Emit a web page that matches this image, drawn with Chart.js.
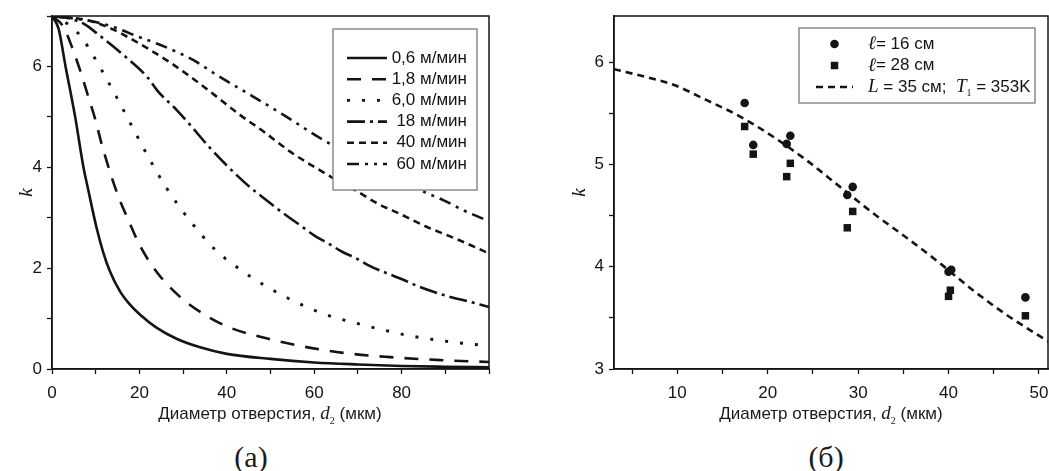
<!DOCTYPE html>
<html lang="ru">
<head>
<meta charset="UTF-8">
<title>k от диаметра отверстия</title>
<script src="https://cdn.jsdelivr.net/npm/chart.js"></script>
<style>
  body {
    margin: 0;
    width: 1049px;
    height: 471px;
    overflow: hidden;
    position: relative;
    background: #ffffff;
    font-family: 'Liberation Sans', Arial, sans-serif;
    color: #1a1a1a;
  }
  .panel { position: absolute; top: 0; height: 440px; }
  #panelA { left: 0; width: 520px; }
  #panelB { left: 530px; width: 519px; }
  .xtitle {
    position: absolute;
    top: 414px;
    font-size: 17px;
    white-space: nowrap;
    transform: translate(-50%, -50%);
  }
  .xtitle i { font-family: 'Liberation Serif', serif; font-size: 19px; }
  .xtitle sub { font-family: 'Liberation Serif', serif; font-size: 10px; }
  .caption {
    position: absolute;
    top: 457px;
    font-family: 'Liberation Serif', serif;
    font-size: 30px;
    transform: translate(-50%, -50%);
  }
</style>
</head>
<body>
<div class="panel" id="panelA"><canvas id="chartA" width="520" height="440"></canvas></div>
<div class="panel" id="panelB"><canvas id="chartB" width="519" height="440"></canvas></div>
<div class="xtitle" style="left:270px">Диаметр отверстия, <i>d</i><sub>2</sub> (мкм)</div>
<div class="xtitle" style="left:831px">Диаметр отверстия, <i>d</i><sub>2</sub> (мкм)</div>
<div class="caption" style="left:251px">(а)</div>
<div class="caption" style="left:826px">(б)</div>

<script>
// ---- panel (а): k vs d2 for different speeds ----
const speedLabels = ['0,6 м/мин', '1,8 м/мин', '6,0 м/мин', '18 м/мин', '40 м/мин', '60 м/мин'];

const d06 = [0, 1.5, 3.1, 5.3, 7.2, 8.3, 10.2, 11.7, 13.2, 15.5, 17.8, 20.1, 23.9, 28.5, 33.9, 40, 50, 60, 70, 80, 90, 100];
const k06 = [7, 6.75, 6.0, 5.0, 4.0, 3.55, 2.8, 2.32, 1.95, 1.55, 1.28, 1.08, 0.82, 0.6, 0.43, 0.3, 0.2, 0.13, 0.09, 0.06, 0.045, 0.035];

const d18 = [0, 2.5, 4.5, 6.4, 8.3, 9.8, 11.4, 13.3, 15.2, 17.8, 20.1, 24, 29.3, 35.4, 40.7, 49.5, 56, 66.7, 76.6, 88, 100];
const k18 = [7, 6.8, 6.4, 5.93, 5.4, 4.98, 4.45, 3.9, 3.42, 2.89, 2.45, 1.92, 1.43, 1.05, 0.82, 0.6, 0.47, 0.32, 0.24, 0.18, 0.14];

const d60 = [0, 4.1, 6.9, 11.2, 14.9, 18.5, 22.2, 26.2, 31.4, 37.3, 43.6, 49.8, 56, 62.3, 68.6, 75.1, 81.2, 87.6, 94, 100];
const k60 = [7, 6.81, 6.56, 5.95, 5.37, 4.78, 4.18, 3.59, 2.96, 2.37, 1.94, 1.6, 1.32, 1.09, 0.93, 0.79, 0.67, 0.58, 0.51, 0.46];

const dS18 = [0, 4, 7.6, 10.2, 15.9, 21.7, 24.3, 28.5, 31.6, 36.2, 43.8, 49.9, 52.9, 56.8, 59.8, 63.6, 66.3, 69.7, 72.8, 76.6, 80.4, 83.5, 87.3, 91.1, 95.7, 100];
const kS18 = [7, 6.95, 6.83, 6.66, 6.26, 5.8, 5.5, 5.14, 4.84, 4.38, 3.72, 3.29, 3.09, 2.85, 2.66, 2.47, 2.33, 2.19, 2.04, 1.9, 1.77, 1.65, 1.53, 1.43, 1.33, 1.23];

const dS40 = [0, 7.9, 13.3, 17.8, 22.4, 27, 31.6, 36.2, 43, 48.4, 54.5, 62.9, 69.3, 74.3, 80, 85.7, 91.1, 95.7, 100];
const kS40 = [7, 6.92, 6.76, 6.56, 6.33, 6.08, 5.8, 5.5, 5.04, 4.71, 4.31, 3.86, 3.55, 3.29, 3.06, 2.82, 2.63, 2.46, 2.29];

const dS60 = [0, 9.5, 14.8, 19.4, 24.7, 30, 32.3, 37.7, 45.3, 53.7, 62.1, 84.2, 89.5, 94.1, 100];
const kS60 = [7, 6.89, 6.76, 6.6, 6.43, 6.23, 6.13, 5.83, 5.44, 5.0, 4.54, 3.55, 3.35, 3.15, 2.93];

// ---- panel (б): measured k and calculation ----
const d16 = [17.45, 18.4, 22.1, 22.5, 28.8, 29.4, 40.0, 40.3, 48.5];
const k16 = [5.6, 5.19, 5.2, 5.28, 4.7, 4.78, 3.95, 3.97, 3.7];
const d28 = [17.45, 18.4, 22.1, 22.5, 28.8, 29.4, 40.0, 40.2, 48.5];
const k28 = [5.37, 5.1, 4.88, 5.01, 4.38, 4.54, 3.71, 3.77, 3.52];
const dCalc = [3, 5.8, 9.5, 13.2, 16.9, 20.6, 24.3, 28, 31.7, 35.4, 39.1, 42.7, 46.4, 51];
const kCalc = [5.93, 5.87, 5.78, 5.63, 5.47, 5.27, 5.04, 4.78, 4.52, 4.28, 4.03, 3.77, 3.53, 3.27];

const INK = '#141414';
const SANS = '"Liberation Sans", Arial, sans-serif';
const SERIF = '"Liberation Serif", "Times New Roman", serif';

Chart.defaults.font.family = SANS;
Chart.defaults.color = INK;
Chart.defaults.animation = false;

function pts(xs, ys) {
  return xs.map((x, i) => ({ x: x, y: ys[i] }));
}

function curve(xs, ys, dash, width) {
  return {
    data: pts(xs, ys),
    showLine: true,
    borderColor: INK,
    borderWidth: width || 2.6,
    borderDash: dash,
    pointRadius: 0,
    cubicInterpolationMode: 'monotone'
  };
}

function drawRuns(ctx, runs, x, y, align) {
  const fonts = {
    sans: '17px ' + SANS,
    it: 'italic 19px ' + SERIF,
    sub: '10px ' + SERIF
  };
  let total = 0;
  runs.forEach(r => { ctx.font = fonts[r[1]]; total += ctx.measureText(r[0]).width; });
  let cx = align === 'right' ? x - total : x;
  ctx.textBaseline = 'middle';
  ctx.textAlign = 'left';
  ctx.fillStyle = INK;
  runs.forEach(r => {
    ctx.font = fonts[r[1]];
    ctx.fillText(r[0], cx, r[1] === 'sub' ? y + 6 : y);
    cx += ctx.measureText(r[0]).width;
  });
}

// frame round the plot + boxed legend inside the plot
const boxLegend = {
  id: 'boxLegend',
  afterDraw(chart, args, opts) {
    const ctx = chart.ctx;
    const a = chart.chartArea;
    ctx.save();
    ctx.strokeStyle = INK;
    ctx.lineWidth = 1.5;
    ctx.strokeRect(a.left, a.top, a.right - a.left, a.bottom - a.top);

    const b = opts.box;
    ctx.fillStyle = '#ffffff';
    ctx.fillRect(b.x, b.y, b.w, b.h);
    ctx.strokeStyle = '#7a7a7a';
    ctx.lineWidth = 1.3;
    ctx.strokeRect(b.x, b.y, b.w, b.h);

    opts.items.forEach((it, i) => {
      const ds = chart.data.datasets[it.dataset];
      const y = b.rowY + i * b.rowH;
      if (it.kind === 'line') {
        ctx.strokeStyle = ds.borderColor;
        ctx.lineWidth = ds.borderWidth;
        ctx.setLineDash(ds.borderDash || []);
        ctx.beginPath();
        ctx.moveTo(b.sampleX1, y);
        ctx.lineTo(b.sampleX2, y);
        ctx.stroke();
        ctx.setLineDash([]);
      } else {
        ctx.fillStyle = ds.backgroundColor;
        const sx = (b.sampleX1 + b.sampleX2) / 2;
        ctx.beginPath();
        if (ds.pointStyle === 'rect') {
          const s = ds.pointRadius * Math.SQRT1_2;
          ctx.rect(sx - s, y - s, 2 * s, 2 * s);
        } else {
          ctx.arc(sx, y, ds.pointRadius, 0, Math.PI * 2);
        }
        ctx.fill();
      }
      drawRuns(ctx, it.runs, b.textX, y, b.align);
    });
    ctx.restore();
  }
};

function axes(xr, yr) {
  const tickFont = { size: 17, family: SANS };
  const grid = { drawOnChartArea: false, drawTicks: true, tickLength: 5, color: INK, tickWidth: 1.3 };
  const border = { display: true, color: INK, width: 1.5 };
  return {
    x: {
      type: 'linear', min: xr.min, max: xr.max,
      grid: grid, border: border,
      afterFit: s => { s.height = 71; s.paddingLeft = 0; s.paddingRight = 0; },
      ticks: {
        stepSize: xr.step, includeBounds: false, maxRotation: 0, autoSkip: false,
        padding: 9, font: tickFont,
        callback: v => (xr.labels.includes(v) ? String(v) : '')
      }
    },
    y: {
      type: 'linear', min: yr.min, max: yr.max,
      grid: grid, border: border,
      afterFit: s => { s.width = yr.width; s.paddingTop = 0; s.paddingBottom = 0; },
      title: {
        display: true, text: 'k',
        font: { family: SERIF, style: 'italic', size: 19 },
        padding: { top: yr.titlePad, bottom: 0 }
      },
      ticks: {
        stepSize: yr.step, includeBounds: false, autoSkip: false,
        padding: 5, font: tickFont,
        callback: v => (yr.labels.includes(v) ? String(v) : '')
      }
    }
  };
}

// ---- chart (а) ----
new Chart(document.getElementById('chartA'), {
  type: 'scatter',
  data: {
    datasets: [
      curve(d06, k06, []),
      curve(d18, k18, [14, 11]),
      curve(d60, k60, [3, 12], 2.9),
      curve(dS18, kS18, [18, 5, 3, 5]),
      curve(dS40, kS40, [7, 5]),
      curve(dS60, kS60, [12, 6, 3, 6, 3, 6])
    ]
  },
  options: {
    responsive: false,
    devicePixelRatio: 1,
    layout: { autoPadding: false, padding: { top: 16, right: 31, left: 0, bottom: 0 } },
    scales: axes(
      { min: 0, max: 100, step: 10, labels: [0, 20, 40, 60, 80] },
      { min: 0, max: 7, step: 1, labels: [0, 2, 4, 6], width: 52, titlePad: 16 }
    ),
    plugins: {
      legend: { display: false },
      tooltip: { enabled: false },
      boxLegend: {
        box: { x: 333, y: 29, w: 144, h: 161, rowY: 58, rowH: 21.2, sampleX1: 347, sampleX2: 387, textX: 467, align: 'right' },
        items: speedLabels.map((t, i) => ({ dataset: i, kind: 'line', runs: [[t, 'sans']] }))
      }
    }
  },
  plugins: [boxLegend]
});

// ---- chart (б) ----
new Chart(document.getElementById('chartB'), {
  type: 'scatter',
  data: {
    datasets: [
      { data: pts(d16, k16), pointStyle: 'circle', pointRadius: 4.3, backgroundColor: INK, borderWidth: 0 },
      { data: pts(d28, k28), pointStyle: 'rect', pointRadius: 5.3, backgroundColor: INK, borderWidth: 0 },
      curve(dCalc, kCalc, [7, 5])
    ]
  },
  options: {
    responsive: false,
    devicePixelRatio: 1,
    layout: { autoPadding: false, padding: { top: 16, right: 1, left: 0, bottom: 0 } },
    scales: axes(
      { min: 3, max: 51, step: 5, labels: [10, 20, 30, 40, 50] },
      { min: 3, max: 6.45, step: 0.5, labels: [3, 4, 5, 6], width: 84, titlePad: 39 }
    ),
    plugins: {
      legend: { display: false },
      tooltip: { enabled: false },
      boxLegend: {
        box: { x: 269, y: 28, w: 236, h: 75, rowY: 44, rowH: 21.5, sampleX1: 286, sampleX2: 323, textX: 338, align: 'left' },
        items: [
          { dataset: 0, kind: 'point', runs: [['ℓ', 'it'], ['= 16 см', 'sans']] },
          { dataset: 1, kind: 'point', runs: [['ℓ', 'it'], ['= 28 см', 'sans']] },
          { dataset: 2, kind: 'line', runs: [['L', 'it'], [' = 35 см;  ', 'sans'], ['T', 'it'], ['1', 'sub'], [' = 353K', 'sans']] }
        ]
      }
    }
  },
  plugins: [boxLegend]
});
</script>
</body>
</html>
